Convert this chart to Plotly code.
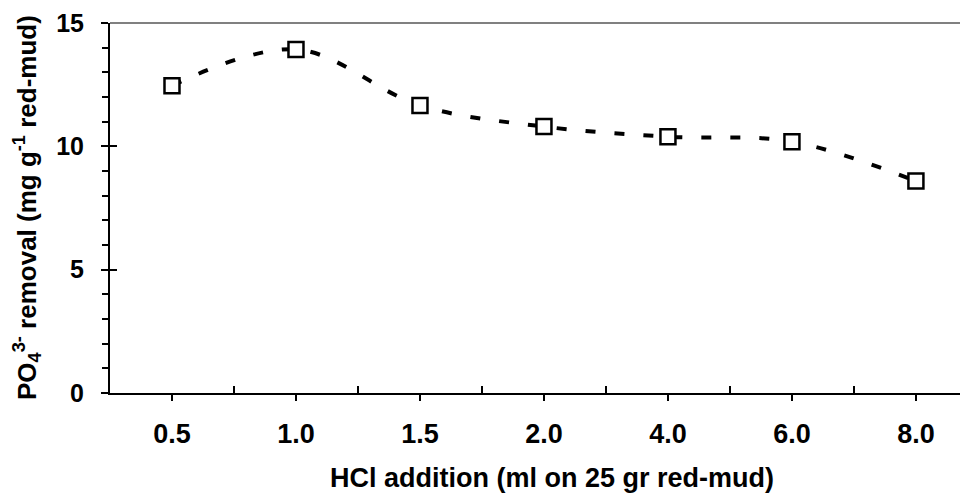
import plotly.graph_objects as go

categories = ["0.5", "1.0", "1.5", "2.0", "4.0", "6.0", "8.0"]
removal = [12.46, 13.93, 11.66, 10.80, 10.39, 10.19, 8.59]
y_ticks = [0, 5, 10, 15]

x_pos = list(range(len(categories)))
minor_x = [i + 0.5 for i in range(len(categories) - 1)]

FONT = "Liberation Sans, Arial, sans-serif"
# page body has an 8px margin, so the figure is sized to end at the window edge
W, H = 960, 485
L, T, B = 102, 15, 100
PW, PH = W - L, H - T - B

fig = go.Figure()
fig.add_trace(go.Scatter(
    x=x_pos, y=removal, mode="lines+markers",
    line=dict(color="black", width=4, dash="10px,19px", shape="spline", smoothing=1),
    marker=dict(symbol="square", size=15, color="white", line=dict(color="black", width=2.5)),
    showlegend=False, hoverinfo="skip",
))
fig.add_trace(go.Scatter(x=[None], y=[None], yaxis="y2", showlegend=False, hoverinfo="skip"))

fig.update_layout(
    width=W, height=H,
    margin=dict(l=L, r=0, t=T, b=B, pad=0),
    plot_bgcolor="white", paper_bgcolor="white",
    font=dict(family=FONT, size=25, color="black"),
    xaxis=dict(
        range=[-0.5, 6.42], tickmode="array", tickvals=x_pos,
        ticktext=[f"<b>{c}</b>" for c in categories], tickfont=dict(size=27),
        showline=True, linecolor="black", linewidth=2,
        ticks="outside", ticklen=6, tickwidth=1.5, tickcolor="black",
        ticklabelstandoff=10,
        minor=dict(tickmode="array", tickvals=minor_x, ticks="inside", ticklen=7,
                   tickwidth=1.5, tickcolor="black"),
        showgrid=False, zeroline=False,
    ),
    yaxis=dict(
        range=[0, 15], tickmode="array", tickvals=y_ticks,
        ticktext=[f"<b>{v}</b>" for v in y_ticks], tickfont=dict(size=25),
        showline=True, linecolor="black", linewidth=2,
        ticks="outside", ticklen=7, tickwidth=1.5, tickcolor="black",
        ticklabelstandoff=12,
        minor=dict(dtick=1, ticks="outside", ticklen=6, tickwidth=1.5, tickcolor="black"),
        showgrid=False, zeroline=False,
    ),
    yaxis2=dict(
        range=[0, 15], overlaying="y", side="left", tickmode="array", tickvals=y_ticks,
        showticklabels=False, ticks="inside", ticklen=7, tickwidth=1.5, tickcolor="black",
        showline=False, showgrid=False, zeroline=False,
    ),
    shapes=[dict(type="line", xref="paper", yref="paper", x0=0, x1=1, y0=1, y1=1,
                 line=dict(color="#808080", width=2))],
    annotations=[
        dict(text="<b>HCl addition (ml on 25 gr red-mud)</b>", xref="paper", yref="paper",
             x=(552 - 110) / PW, y=-(478 - 393) / PH, xanchor="center", yanchor="middle",
             showarrow=False, font=dict(size=27)),
        dict(text="<b>PO<sub>4</sub><sup>3-</sup> removal (mg g<sup>-1</sup> red-mud)</b>",
             xref="paper", yref="paper", x=(27 - 110) / PW, y=0.5, textangle=-90,
             xanchor="center", yanchor="middle", showarrow=False, font=dict(size=26)),
    ],
)

fig.write_html("out.html")
